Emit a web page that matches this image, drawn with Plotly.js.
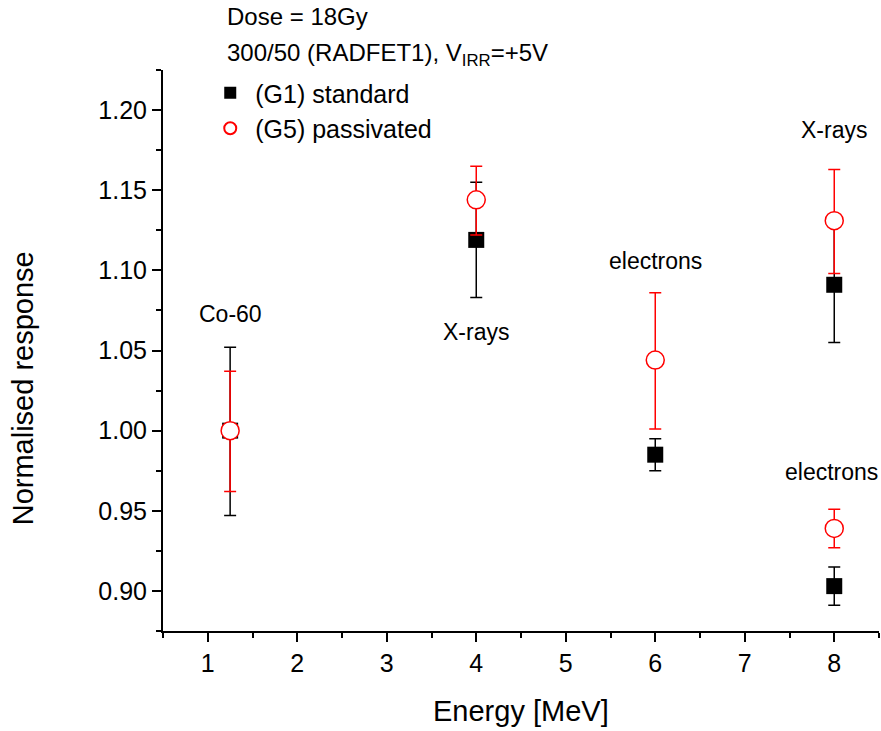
<!DOCTYPE html>
<html>
<head>
<meta charset="utf-8">
<script src="https://cdn.plot.ly/plotly-3.0.1.min.js"></script>
<style>html,body{margin:0;padding:0;background:#fff;}#chart{width:881px;height:731px;}</style>
</head>
<body>
<div id="chart"></div>
<script>
// Data
var energy = [1.25, 4, 6, 8, 8];
var g1Response = [1.000, 1.119, 0.985, 1.091, 0.903];
var g1ErrPlus  = [0.052, 0.036, 0.010, 0.036, 0.012];
var g1ErrMinus = [0.053, 0.036, 0.010, 0.036, 0.012];
var g5Response = [1.000, 1.144, 1.044, 1.131, 0.939];
var g5ErrPlus  = [0.037, 0.021, 0.042, 0.032, 0.012];
var g5ErrMinus = [0.038, 0.022, 0.043, 0.033, 0.012];
var seriesNames = ['(G1) standard', '(G5) passivated'];
var labelText = ['Co-60', 'X-rays', 'electrons', 'X-rays', 'electrons'];
var labelX = [1.25, 4, 6, 8, 7.97];
var labelY = [1.073, 1.0615, 1.106, 1.1875, 0.974];
var xTickVals = [1, 2, 3, 4, 5, 6, 7, 8];
var yTickVals = [0.90, 0.95, 1.00, 1.05, 1.10, 1.15, 1.20];

var FONT = '"Liberation Sans", Arial, Helvetica, sans-serif';

var traces = [
  {
    x: energy, y: g1Response, name: seriesNames[0], type: 'scatter', mode: 'markers',
    marker: {symbol: 'square', size: 16, color: '#000000', line: {width: 0}},
    error_y: {type: 'data', symmetric: false, array: g1ErrPlus, arrayminus: g1ErrMinus,
              color: '#000000', thickness: 1.5, width: 6}
  },
  {
    x: energy, y: g5Response, name: seriesNames[1], type: 'scatter', mode: 'markers',
    marker: {symbol: 'circle', size: 18, color: '#ffffff', line: {width: 1.5, color: '#ff0000'}},
    error_y: {type: 'data', symmetric: false, array: g5ErrPlus, arrayminus: g5ErrMinus,
              color: '#ff0000', thickness: 1.5, width: 6}
  }
];

var annotations = labelText.map(function (t, i) {
  return {x: labelX[i], y: labelY[i], xref: 'x', yref: 'y', text: t, showarrow: false,
          xanchor: 'center', yanchor: 'middle', font: {family: FONT, size: 23, color: '#000'}};
});
annotations.push({x: 0.087, y: 1.0945, xref: 'paper', yref: 'paper', text: 'Dose = 18Gy',
  showarrow: false, xanchor: 'left', yanchor: 'middle', font: {family: FONT, size: 24, color: '#000'}});
annotations.push({x: 0.087, y: 1.027, xref: 'paper', yref: 'paper',
  text: '300/50 (RADFET1), V<sub>IRR</sub>=+5V',
  showarrow: false, xanchor: 'left', yanchor: 'middle', font: {family: FONT, size: 24, color: '#000'}});
annotations.push({x: -0.196, y: 0.432, xref: 'paper', yref: 'paper', text: 'Normalised response',
  textangle: -90, showarrow: false, xanchor: 'center', yanchor: 'middle',
  font: {family: FONT, size: 29, color: '#000'}});
annotations.push({x: 0.5, y: -0.1426, xref: 'paper', yref: 'paper', text: 'Energy [MeV]',
  showarrow: false, xanchor: 'center', yanchor: 'middle',
  font: {family: FONT, size: 29, color: '#000'}});

var layout = {
  width: 881, height: 731,
  margin: {l: 163, r: 2, t: 70, b: 100},
  paper_bgcolor: '#ffffff', plot_bgcolor: '#ffffff',
  font: {family: FONT, color: '#000'},
  showlegend: true,
  legend: {x: 0.059, y: 1.0, xanchor: 'left', yanchor: 'top', bgcolor: 'rgba(0,0,0,0)',
           itemsizing: 'constant', itemwidth: 40, font: {family: FONT, size: 25, color: '#000'}, tracegroupgap: 0},
  xaxis: {
    range: [0.5, 8.5], tickmode: 'array', tickvals: xTickVals,
    showgrid: false, zeroline: false, showline: true, linecolor: '#000', linewidth: 2,
    ticks: 'outside', ticklen: 9, tickwidth: 2, tickcolor: '#000',
    tickfont: {family: FONT, size: 25, color: '#000'},
    minor: {dtick: 0.5, tick0: 0.5, ticks: 'outside', ticklen: 5, tickwidth: 2, tickcolor: '#000', showgrid: false}
  },
  yaxis: {
    range: [0.875, 1.225], tickmode: 'array', tickvals: yTickVals, tickformat: '.2f',
    showgrid: false, zeroline: false, showline: true, linecolor: '#000', linewidth: 2,
    ticks: 'outside', ticklen: 9, tickwidth: 2, tickcolor: '#000',
    tickfont: {family: FONT, size: 25, color: '#000'},
    minor: {dtick: 0.025, tick0: 0.875, ticks: 'outside', ticklen: 5, tickwidth: 2, tickcolor: '#000', showgrid: false}
  },
  annotations: annotations
};

Plotly.newPlot('chart', traces, layout, {displayModeBar: false, staticPlot: true});
</script>
</body>
</html>
